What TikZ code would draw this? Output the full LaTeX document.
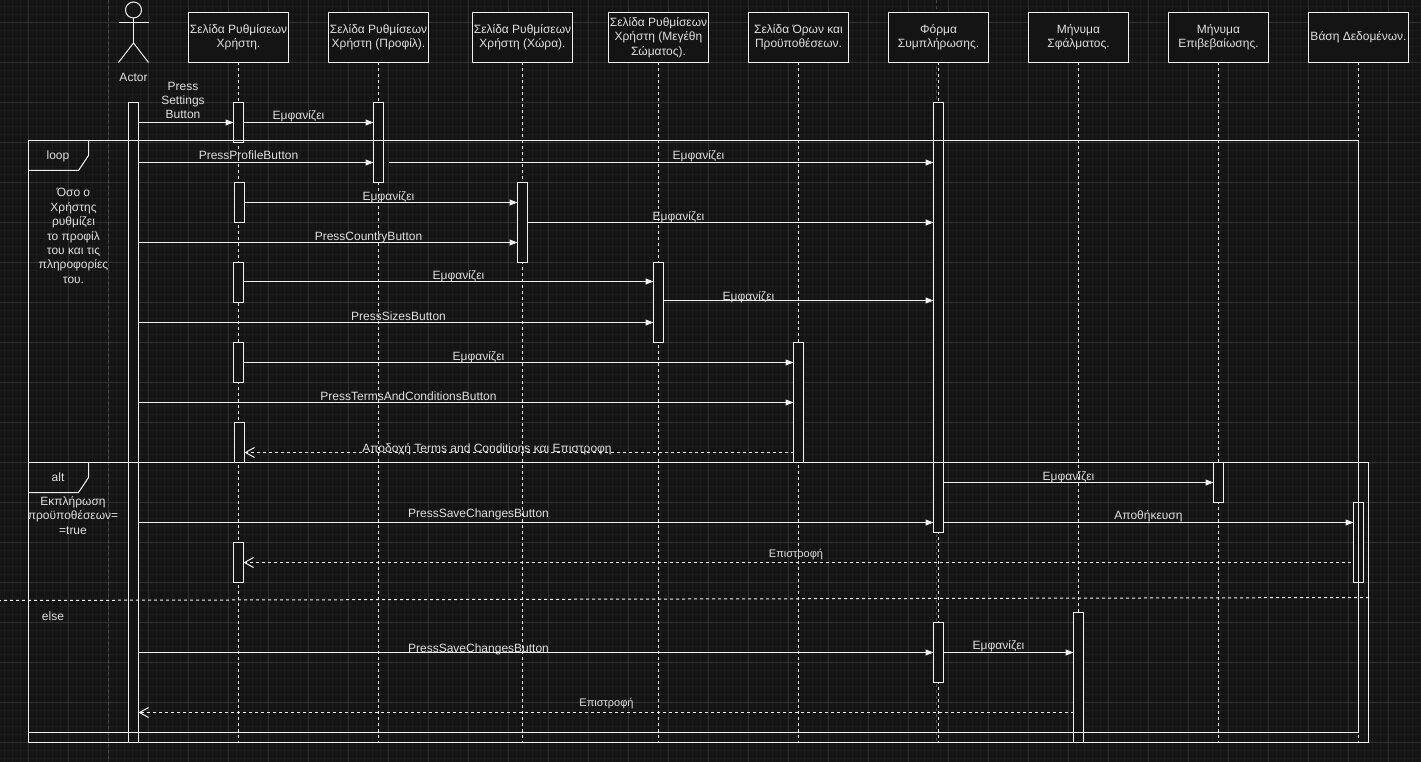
\documentclass[tikz,border=0pt]{standalone}
\usepackage{fontspec}
\setmainfont{Liberation Sans}
\usetikzlibrary{calc,arrows.meta}
\definecolor{bgc}{HTML}{141414}
\definecolor{gridmin}{HTML}{1B1B1B}
\definecolor{gridmaj}{HTML}{303030}
\definecolor{ghostc}{HTML}{484848}
\definecolor{linec}{HTML}{F0F0F0}
\definecolor{texc}{HTML}{E0E0E0}
\tikzset{
  part/.style={draw=linec,fill=bgc,line width=1pt,outer sep=0pt,minimum width=100pt,minimum height=50pt,inner sep=0pt,align=center,text=texc,font=\fontsize{12}{14.4}\selectfont},
  act/.style={draw=linec,fill=bgc,line width=1pt,outer sep=0pt,minimum width=10pt,inner sep=0pt},
  lifeline/.style={draw=linec,line width=1pt,dash pattern=on 3pt off 3pt},
  ghost/.style={draw=ghostc,line width=1pt,dash pattern=on 3pt off 3pt},
  msg/.style={draw=linec,line width=1pt,-{Triangle[length=8pt,width=6pt,fill=linec]}},
  ret/.style={draw=linec,line width=1pt,dash pattern=on 3pt off 3pt,-{Straight Barb[length=9pt,width=10pt,line width=1pt]}},
  lbl/.style={text=texc,inner sep=0pt,anchor=base,font=\fontsize{12}{14.4}\selectfont},
  small/.style={lbl,font=\fontsize{11}{13.2}\selectfont},
  note/.style={text=texc,inner sep=0pt,align=center,font=\fontsize{12}{14.4}\selectfont},
  frameb/.style={draw=linec,line width=1pt,outer sep=0pt,inner sep=0pt},
}
\begin{document}
\begin{tikzpicture}[x=1pt,y=-1pt]
%
\useasboundingbox (0,0) rectangle (1421,762);
\clip (0,0) rectangle (1421,762);
\fill[bgc] (0,0) rectangle (1421,762);
%
\foreach \i in {0,...,180}
  \draw[gridmin,line width=1pt] ({\i*8-11.5},0)--({\i*8-11.5},762);
\foreach \i in {0,...,98}
  \draw[gridmin,line width=1pt] (0,{\i*8-17.5})--(1421,{\i*8-17.5});
\foreach \i in {0,...,36}
  \draw[gridmaj,line width=1pt] ({\i*40-11.5},0)--({\i*40-11.5},762);
\foreach \i in {0,...,20}
  \draw[gridmaj,line width=1pt] (0,{\i*40-17.5})--(1421,{\i*40-17.5});
%
\draw[ghost](108.5,0)--(108.5,762);
\draw[ghost](936,0)--(936,742);
%
\coordinate (End) at (0,742.5);
%
\node[part] (bSet) at (238.5,37.5) {Σελίδα Ρυθμίσεων\\Χρήστη.};
\node[part] (bProf) at (378.5,37.5) {Σελίδα Ρυθμίσεων\\Χρήστη (Προφίλ).};
\node[part] (bCountry) at (522.5,37.5) {Σελίδα Ρυθμίσεων\\Χρήστη (Χώρα).};
\node[part] (bSize) at (658.5,37.5) {Σελίδα Ρυθμίσεων\\Χρήστη (Μεγέθη\\Σώματος).};
\node[part] (bTerms) at (798.5,37.5) {Σελίδα Όρων και\\Προϋποθέσεων.};
\node[part] (bForm) at (938.5,37.5) {Φόρμα\\Συμπλήρωσης.};
\node[part] (bErr) at (1078.5,37.5) {Μήνυμα\\Σφάλματος.};
\node[part] (bOk) at (1218.5,37.5) {Μήνυμα\\Επιβεβαίωσης.};
\node[part] (bData) at (1358.5,37.5) {Βάση Δεδομένων.};
%
\foreach \b in {bSet,bProf,bCountry,bSize,bTerms,bForm,bErr,bOk,bData}
  \draw[lifeline](\b.south)--(\b.south|-End);
%
% actor
\node[circle,draw=linec,line width=1pt,minimum size=16pt,inner sep=0pt,outer sep=0pt] (head) at (133.5,10) {};
\coordinate (hip) at (133.5,43);
\draw[draw=linec,line width=1pt](head.south)--(hip);
\draw[draw=linec,line width=1pt](118.5,22.5)--(148.5,22.5);
\draw[draw=linec,line width=1pt](118.5,62.5)--(hip)--(148.5,62.5);
\node[note] (tActor) at (133.5,77) {Actor};
%
\node[act,minimum height=640pt] (aActor) at (133.5,422.5) {};
\node[act,minimum height=40pt] (aSet1) at (238.5,122.5) {};
\node[act,minimum height=80pt] (aProf) at (378.5,142.5) {};
\node[act,minimum height=40pt] (aSet2) at (239.5,202.5) {};
\node[act,minimum height=80pt] (aCountry) at (522.5,222.5) {};
\node[act,minimum height=40pt] (aSet3) at (238.5,282.5) {};
\node[act,minimum height=80pt] (aSize) at (658.5,302.5) {};
\node[act,minimum height=40pt] (aSet4) at (238.5,362.5) {};
\node[act,minimum height=120pt] (aTerms) at (798.5,402.5) {};
\node[act,minimum height=40pt] (aSet5) at (239.5,442.5) {};
\node[act,minimum height=430pt] (aForm1) at (938.5,317.5) {};
\node[act,minimum height=40pt] (aOk) at (1218.5,482.5) {};
\node[act,minimum height=80pt] (aData) at (1358.5,542.5) {};
\node[act,minimum height=40pt] (aSet6) at (238.5,562.5) {};
\node[act,minimum height=60pt] (aForm2) at (938.5,652.5) {};
\node[act,minimum height=130pt] (aErr) at (1078.5,677.5) {};
%
\foreach \n/\y in {1/122.5,2/162.5,3/202.5,4/222.5,5/242.5,6/281.5,7/300.5,8/322.5,9/362.5,10/402.5,11/452.5,12/482.5,13/522.5,14/562.5,15/652.5,16/712.5}
  \coordinate (r\n) at (0,\y);
%
\draw[msg](aActor.east|-r1)--(aSet1.west|-r1);
\draw[msg](aSet1.east|-r1)--(aProf.west|-r1);
\draw[msg](aActor.east|-r2)--(aProf.west|-r2);
\draw[msg,shorten <=5pt](aProf.east|-r2)--(aForm1.west|-r2);
\draw[msg](aSet2.east|-r3)--(aCountry.west|-r3);
\draw[msg](aCountry.east|-r4)--(aForm1.west|-r4);
\draw[msg](aActor.east|-r5)--(aCountry.west|-r5);
\draw[msg](aSet3.east|-r6)--(aSize.west|-r6);
\draw[msg](aSize.east|-r7)--(aForm1.west|-r7);
\draw[msg](aActor.east|-r8)--(aSize.west|-r8);
\draw[msg](aSet4.east|-r9)--(aTerms.west|-r9);
\draw[msg](aActor.east|-r10)--(aTerms.west|-r10);
\draw[ret](aTerms.west|-r11)--(aSet5.east|-r11);
\draw[msg](aForm1.east|-r12)--(aOk.west|-r12);
\draw[msg](aActor.east|-r13)--(aForm1.west|-r13);
\draw[msg](aForm1.east|-r13)--(aData.west|-r13);
\draw[ret,shorten <=3pt](aData.west|-r14)--(aSet6.east|-r14);
\draw[msg](aActor.east|-r15)--(aForm2.west|-r15);
\draw[msg](aForm2.east|-r15)--(aErr.west|-r15);
\draw[ret](aErr.west|-r16)--(aActor.east|-r16);
%
% frames
\node[frameb,minimum width=1330pt,minimum height=592pt] (fLoop) at (693.5,436.5) {};
\node[frameb,minimum width=1340pt,minimum height=280pt] (fAlt) at (698.5,602.5) {};
\draw[frameb]($(fLoop.north west)+(60,0)$)--++(0,15)--++(-10,15)--++(-50,0);
\draw[frameb]($(fAlt.north west)+(60,0)$)--++(0,15)--++(-10,15)--++(-50,0);
\coordinate (elseL) at (0,600.5);
\coordinate (elseR) at (1369,597.5);
\draw[draw=linec,line width=1pt,dash pattern=on 3pt off 3pt,dash phase=2pt](elseL)--(elseR);
%
\node[note] (tLoop) at (58,156) {loop};
\node[note] (tAlt) at (58,477) {alt};
\node[note] (tElse) at (53,616) {else};
\node[note] (tWhile) at (73.5,236) {Όσο ο\\Χρήστης\\ρυθμίζει\\το προφίλ\\του και τις\\πληροφορίες\\του.};
\node[note] (tCond) at (73,515.5) {Εκπλήρωση\\προϋποθέσεων=\\=true};
%
\node[note] (l1) at (183,100.5) {Press\\Settings\\Button};
\node[lbl] (l2) at (298.5,119.5) {Εμφανίζει};
\node[lbl] (l3) at (248.5,160) {PressProfileButton};
\node[lbl] (l4) at (698.5,159.5) {Εμφανίζει};
\node[lbl] (l5) at (388.5,200.2) {Εμφανίζει};
\node[lbl] (l6) at (678.5,220.2) {Εμφανίζει};
\node[lbl] (l7) at (368.5,240.7) {PressCountryButton};
\node[lbl] (l8) at (458.5,279.5) {Εμφανίζει};
\node[lbl] (l9) at (748.5,300.2) {Εμφανίζει};
\node[lbl] (l10) at (398.5,320) {PressSizesButton};
\node[lbl] (l11) at (478.5,360.2) {Εμφανίζει};
\node[lbl] (l12) at (408.5,400) {PressTermsAndConditionsButton};
\node[lbl] (l13) at (487,452) {Αποδοχή Terms and Conditions και Επιστροφη};
\node[lbl] (l14) at (1068.5,480.2) {Εμφανίζει};
\node[lbl] (l15) at (478.5,517) {PressSaveChangesButton};
\node[lbl] (l16) at (1148.5,519.5) {Αποθήκευση};
\node[small] (l17) at (796,557) {Επιστροφή};
\node[lbl] (l18) at (478.5,652) {PressSaveChangesButton};
\node[lbl] (l19) at (998.5,649) {Εμφανίζει};
\node[small] (l20) at (606.5,706) {Επιστροφή};
%
\end{tikzpicture}
\end{document}
